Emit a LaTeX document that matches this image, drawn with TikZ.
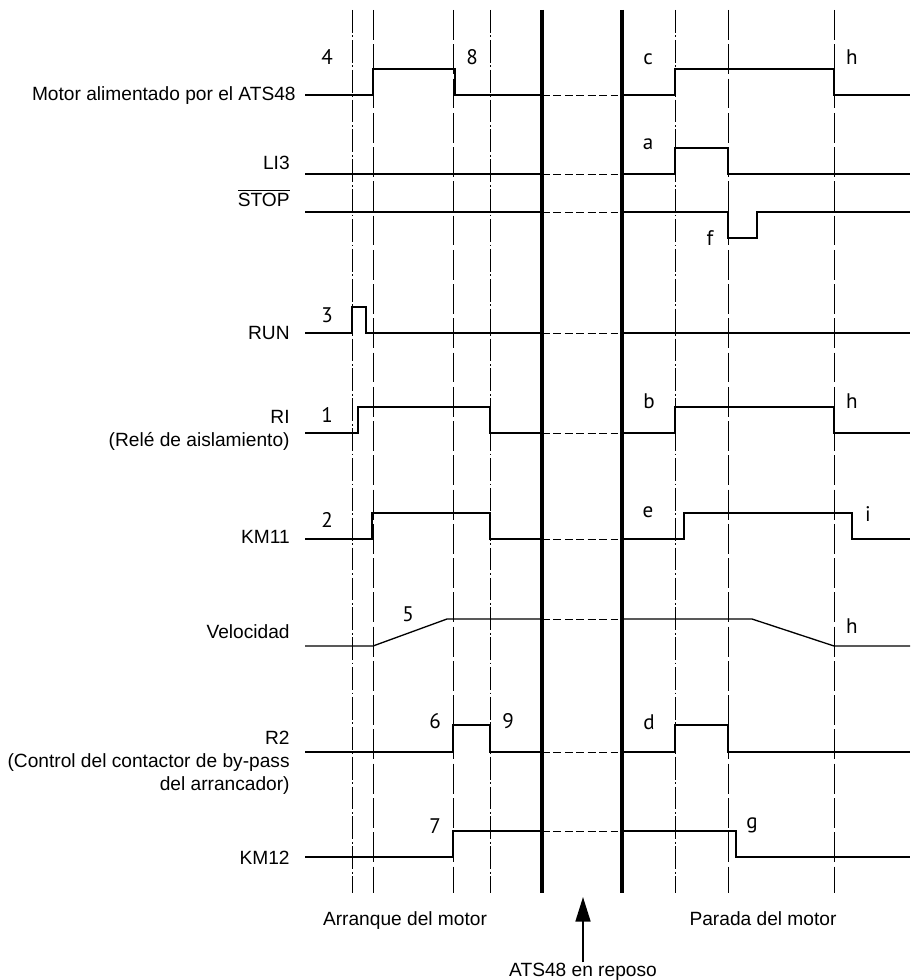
\documentclass[tikz,border=0pt]{standalone}
\usepackage{fontspec}
\setmainfont{Liberation Sans}
\newfontfamily\tagfont{PT Sans}
\usetikzlibrary{arrows.meta}

\begin{document}
\begin{tikzpicture}[x=0.02cm,y=-0.02cm,
  sig/.style={line width=0.75pt},
  rest/.style={line width=0.45pt,dash pattern=on 4.5pt off 2pt},
  bar/.style={line width=2.6pt},
  dashdot/.style={line width=0.5pt,dash pattern=on 13pt off 1.5pt on 1pt off 1.5pt},
  longdash/.style={line width=0.5pt,dash pattern=on 17pt off 2.5pt},
  lbl/.style={font=\fontsize{10.9}{13}\selectfont,align=right,anchor=east,inner sep=0pt},
  tag/.style={font=\tagfont\fontsize{12}{13}\selectfont,anchor=base,inner sep=0pt},
  foot/.style={font=\fontsize{10.9}{13}\selectfont,anchor=base,inner sep=0pt}]
\useasboundingbox (0,0) rectangle (910,980);
% time marks
\foreach \x/\s in {352/dashdot,373/longdash,453/longdash,490/dashdot,675/dashdot,728/longdash,834/longdash}
  \draw[\s] (\x,10) -- (\x,893);
\foreach \x in {542,622} \draw[bar] (\x,10) -- (\x,893);
% idle span between the bars
\foreach \y in {95,174,212,333,433,539,619,752,831} \draw[rest] (542,\y) -- (622,\y);
% signals
\draw[sig] (305,95)--(373,95)--(373,69)--(455,69)--(455,95)--(542,95);
\draw[sig] (622,95)--(675,95)--(675,69)--(834,69)--(834,95)--(910,95);
\draw[sig] (305,174)--(542,174);
\draw[sig] (622,174)--(675,174)--(675,148)--(728,148)--(728,174)--(910,174);
\draw[sig] (305,212)--(542,212);
\draw[sig] (622,212)--(728,212)--(728,238)--(757,238)--(757,212)--(910,212);
\draw[sig] (305,333)--(352,333)--(352,307)--(366,307)--(366,333)--(542,333);
\draw[sig] (622,333)--(910,333);
\draw[sig] (305,433)--(358,433)--(358,407)--(490,407)--(490,433)--(542,433);
\draw[sig] (622,433)--(675,433)--(675,407)--(834,407)--(834,433)--(910,433);
\draw[sig] (305,539)--(372,539)--(372,513)--(490,513)--(490,539)--(542,539);
\draw[sig] (622,539)--(684,539)--(684,513)--(852,513)--(852,539)--(910,539);
\draw[sig] (305,646)--(373,646)--(447,619)--(542,619);
\draw[sig] (622,619)--(752,619)--(834,646)--(910,646);
\draw[sig] (305,752)--(453,752)--(453,725)--(490,725)--(490,752)--(542,752);
\draw[sig] (622,752)--(675,752)--(675,725)--(728,725)--(728,752)--(910,752);
\draw[sig] (305,857)--(453,857)--(453,831)--(542,831);
\draw[sig] (622,831)--(736,831)--(736,857)--(910,857);
% signal names
\node[lbl] (motor) at (296,96) {Motor alimentado por el ATS48};
\node[lbl] (li3) at (290,163) {LI3};
\node[lbl] (stop) at (290,198) {$\overline{\mbox{STOP}}$};
\node[lbl] (run) at (290,333) {RUN};
\node[lbl] (ri) at (290,430) {RI\\(Relé de aislamiento)};
\node[lbl] (km11) at (290,537) {KM11};
\node[lbl] (vel) at (290,632) {Velocidad};
\node[lbl] (r2) at (290,763) {R2\\(Control del contactor de by-pass\\del arrancador)};
\node[lbl] (km12) at (290,858) {KM12};
% step marks
\node[tag] (n4) at (327,65) {4};
\node[tag] (n8) at (472,65) {8};
\node[tag] (nc) at (648,65) {c};
\node[tag] (nh1) at (852,65) {h};
\node[tag] (na) at (648,150) {a};
\node[tag] (nf) at (710,245) {f};
\node[tag] (n3) at (327,322) {3};
\node[tag] (n1) at (327,422) {1};
\node[tag] (nb) at (649,408) {b};
\node[tag] (nh2) at (852,408) {h};
\node[tag] (n2) at (327,527) {2};
\node[tag] (ne) at (648,517) {e};
\node[tag] (ni) at (868,521) {i};
\node[tag] (n5) at (408,621) {5};
\node[tag] (nh3) at (852,633) {h};
\node[tag] (n6) at (435,728) {6};
\node[tag] (n9) at (508,728) {9};
\node[tag] (nd) at (649,729) {d};
\node[tag] (n7) at (435,833) {7};
\node[tag] (ng) at (752,828) {g};
% phases
\node[foot] (arranque) at (405,925) {Arranque del motor};
\node[foot] (parada) at (763,925) {Parada del motor};
\node[foot] (reposo) at (583,976) {ATS48 en reposo};
\coordinate (tip) at (583,897);
\draw[line width=1.1pt,-{Triangle[width=8.5pt,length=14pt]}] (reposo.north) -- (tip);
\end{tikzpicture}
\end{document}
